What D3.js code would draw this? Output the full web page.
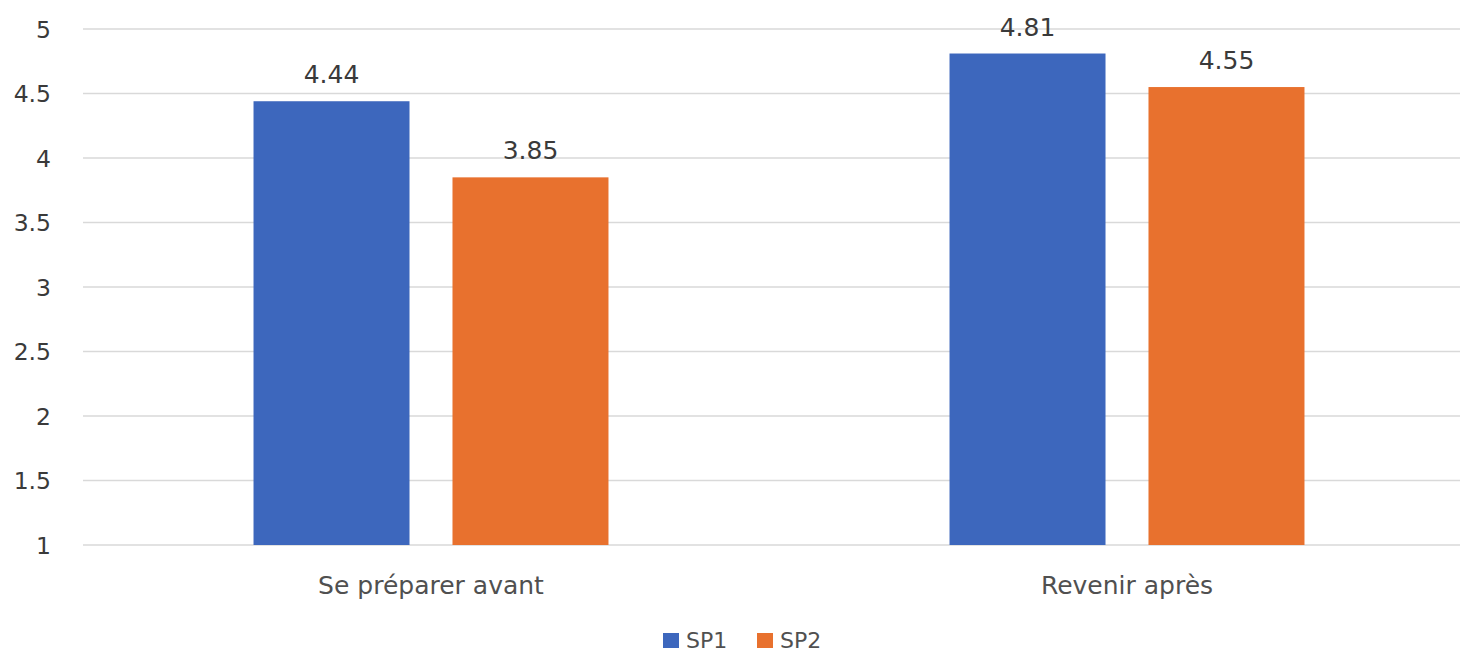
<!DOCTYPE html>
<html>
<head>
<meta charset="utf-8">
<script src="https://d3js.org/d3.v7.min.js"></script>
<style>
  body { margin: 0; background: #fff; }
  svg { display: block; overflow: hidden; }
  .tick text { font-family: "DejaVu Sans", sans-serif; }
</style>
</head>
<body>
<div id="chart"></div>
<script>
// data
var categories = ["Se préparer avant", "Revenir après"];
var series = ["SP1", "SP2"];
var sp1Values = [4.44, 4.81];
var sp2Values = [3.85, 4.55];
var colors = ["#3d67bd", "#e8712e"];
var yTicks = [1, 1.5, 2, 2.5, 3, 3.5, 4, 4.5, 5];

var width = 1460, height = 654;
var margin = { top: 29, right: -15, bottom: 109, left: 83 };

var rows = categories.map(function (c, i) {
    return { category: c, values: [sp1Values[i], sp2Values[i]] };
});

var svg = d3.select("#chart").append("svg")
    .attr("width", width)
    .attr("height", height);

var x0 = d3.scaleBand()
    .domain(categories)
    .range([margin.left, width - margin.right])
    .paddingInner(0.49)
    .paddingOuter(0.245);

var x1 = d3.scaleBand()
    .domain(series)
    .range([0, x0.bandwidth()])
    .paddingInner(0.216);

var y = d3.scaleLinear()
    .domain([1, 5])
    .range([height - margin.bottom, margin.top]);

// gridlines
svg.append("g")
    .attr("class", "grid")
    .selectAll("line")
    .data(yTicks)
    .enter().append("line")
    .attr("x1", margin.left)
    .attr("x2", width - margin.right)
    .attr("y1", function (d) { return y(d); })
    .attr("y2", function (d) { return y(d); })
    .attr("stroke", "#d9d9d9")
    .attr("stroke-width", 1.5);

// y axis labels
var yAxis = svg.append("g")
    .attr("transform", "translate(" + (margin.left - 29) + ",0)")
    .call(d3.axisLeft(y).tickValues(yTicks).tickSize(0).tickFormat(d3.format("")));
yAxis.select(".domain").remove();
yAxis.selectAll("text")
    .attr("font-size", 23.5)
    .attr("fill", "#3a3a3a")
    .attr("dy", "0.36em");

// bars
var groups = svg.append("g").selectAll("g")
    .data(rows)
    .enter().append("g")
    .attr("transform", function (d) { return "translate(" + x0(d.category) + ",0)"; });

groups.selectAll("rect")
    .data(function (d) { return d.values.map(function (v, i) { return { key: series[i], value: v, i: i }; }); })
    .enter().append("rect")
    .attr("x", function (d) { return x1(d.key); })
    .attr("width", x1.bandwidth())
    .attr("y", function (d) { return y(d.value); })
    .attr("height", function (d) { return y(1) - y(d.value); })
    .attr("fill", function (d) { return colors[d.i]; });

// value labels
groups.selectAll("text.value")
    .data(function (d) { return d.values.map(function (v, i) { return { key: series[i], value: v }; }); })
    .enter().append("text")
    .attr("class", "value")
    .attr("x", function (d) { return x1(d.key) + x1.bandwidth() / 2; })
    .attr("y", function (d) { return y(d.value) - 18; })
    .attr("text-anchor", "middle")
    .attr("font-family", "DejaVu Sans, sans-serif")
    .attr("font-size", 25)
    .attr("fill", "#3a3a3a")
    .text(function (d) { return d3.format(".2f")(d.value); });

// category axis
var xAxis = svg.append("g")
    .attr("transform", "translate(0," + y(1) + ")")
    .call(d3.axisBottom(x0).tickSize(0));
xAxis.select(".domain").remove();
xAxis.selectAll("text")
    .attr("font-size", 25)
    .attr("fill", "#505050")
    .attr("dy", "1.85em");

// legend
var legend = svg.append("g")
    .attr("transform", "translate(663,633)");
var legendX = [0, 94];
series.forEach(function (s, i) {
    var g = legend.append("g").attr("transform", "translate(" + legendX[i] + ",0)");
    g.append("rect")
        .attr("width", 16)
        .attr("height", 15)
        .attr("fill", colors[i]);
    g.append("text")
        .attr("x", 23)
        .attr("y", 15)
        .attr("font-family", "DejaVu Sans, sans-serif")
        .attr("font-size", 22)
        .attr("fill", "#505050")
        .text(s);
});
</script>
</body>
</html>
